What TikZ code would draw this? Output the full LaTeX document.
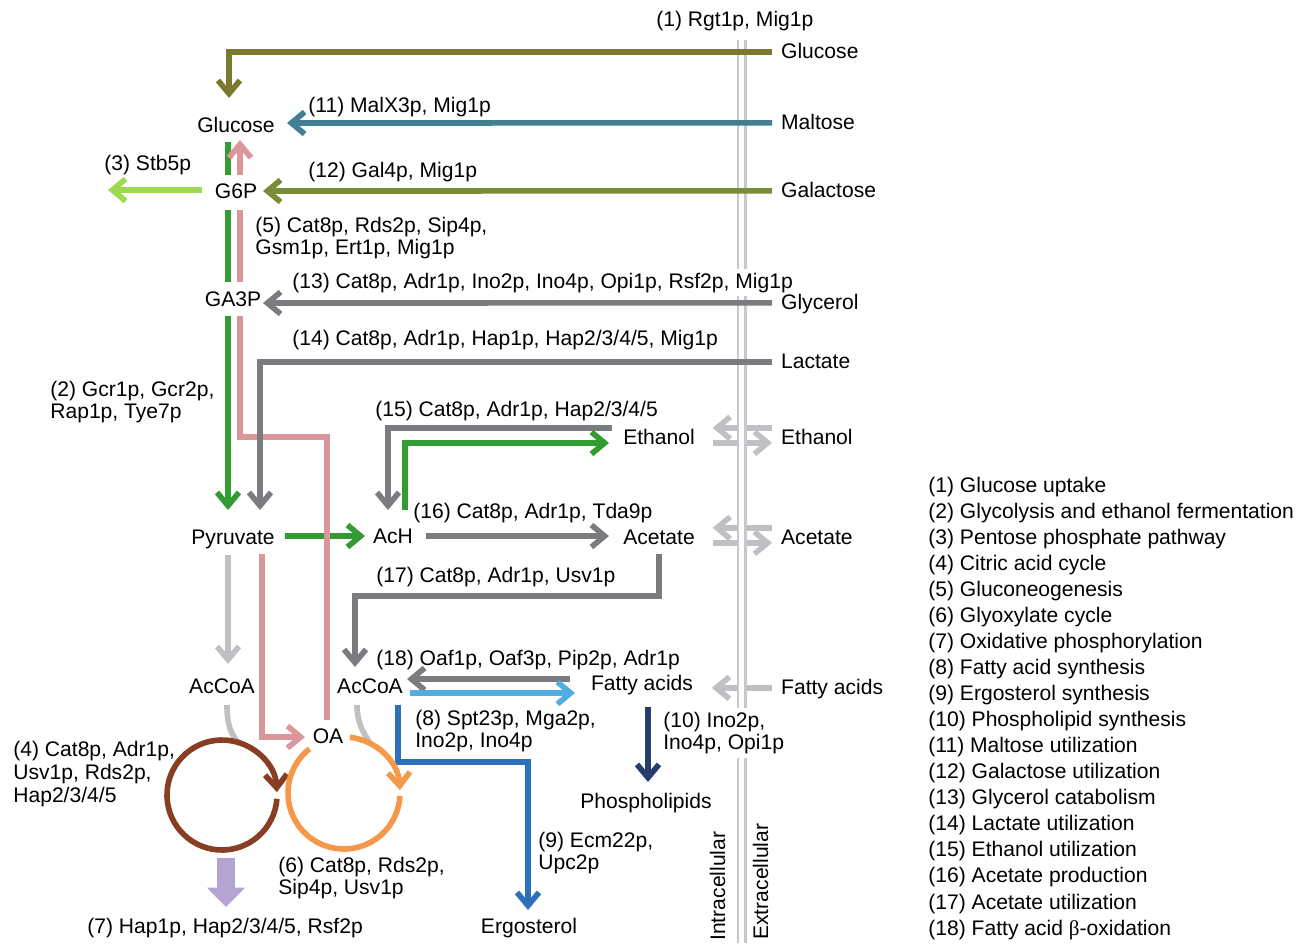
\documentclass[tikz,border=0pt]{standalone}
\usepackage{fontspec}
\setmainfont{Liberation Sans}
\newfontfamily\grk{Liberation Serif}
\usetikzlibrary{arrows.meta,calc}
\definecolor{cglc}{RGB}{122,121,46}
\definecolor{cmal}{RGB}{66,127,146}
\definecolor{cgal}{RGB}{122,140,58}
\definecolor{cppp}{RGB}{158,218,78}
\definecolor{cgreen}{RGB}{50,155,50}
\definecolor{cpink}{RGB}{219,150,155}
\definecolor{cgray}{RGB}{124,124,128}
\definecolor{clgray}{RGB}{192,192,196}
\definecolor{cbrown}{RGB}{135,62,35}
\definecolor{corange}{RGB}{246,152,74}
\definecolor{clblue}{RGB}{82,174,224}
\definecolor{cblue}{RGB}{46,112,186}
\definecolor{cnavy}{RGB}{40,60,112}
\definecolor{cpurple}{RGB}{180,164,210}
\definecolor{cmem}{RGB}{200,200,204}
\begin{document}
\begin{tikzpicture}[x=0.02cm,y=-0.02cm,font=\fontsize{12}{13}\selectfont,
  met/.style={anchor=base,inner sep=2pt,text height=9pt,text depth=2pt},
  ext/.style={met,anchor=base west,inner xsep=5pt},
  lbl/.style={anchor=base west,inner sep=0pt,align=left},
  lblm/.style={anchor=west,inner sep=0pt,align=left},
  mask/.style={fill=white,inner ysep=2pt},
  flow/.style={line width=3.2pt,-{Straight Barb[length=7.5pt,width=12.5pt]}},
  link/.style={line width=3.2pt},
  oxphos/.style={line width=10pt,cpurple,-{Triangle[length=11pt,width=21pt]}},
  membrane/.style={line width=1.7pt,cmem,double=white,double distance=2.3pt}]
\useasboundingbox (0,0) rectangle (1311,943);

\node[met] (glc) at (236,132) {Glucose};
\node[met] (g6p) at (236,198) {G6P};
\node[met] (ga3p) at (233,306) {GA3P};
\node[met] (pyr) at (233,544) {Pyruvate};
\node[met] (ach) at (393,543) {AcH};
\node[met] (etoh) at (659,444) {Ethanol};
\node[met] (ac) at (659,544) {Acetate};
\node[met] (accoa1) at (222,693) {AcCoA};
\node[met] (accoa2) at (370,693) {AcCoA};
\node[met] (oa) at (328,743) {OA};
\node[met] (fa) at (642,690) {Fatty acids};
\node[met] (pl) at (646,808) {Phospholipids};
\node[met] (erg) at (529,933) {Ergosterol};
\coordinate (tca) at (222,795);
\coordinate (gly) at (344,793);

\node[ext] (xetoh) at (772,444) {Ethanol};
\node[ext] (xac) at (772,544) {Acetate};
\node[ext] (xfa) at (772,694) {Fatty acids};

\draw[flow,clgray] ($(xetoh.west)+(0,-10)$) -- ($(etoh.east)+(14,-10)$);
\draw[flow,clgray] ($(etoh.east)+(14,5)$) -- ($(xetoh.west)+(0,5)$);
\draw[flow,clgray] ($(xac.west)+(0,-10)$) -- ($(ac.east)+(14,-10)$);
\draw[flow,clgray] ($(ac.east)+(14,5)$) -- ($(xac.west)+(0,5)$);
\draw[flow,clgray] (xfa.west) -- ($(fa.east)+(15,4)$);

\draw[membrane] (741.5,40) -- (741.5,943);
\node[rotate=90,anchor=base west,inner sep=0pt] (intra) at (725,941) {Intracellular};
\node[rotate=90,anchor=base west,inner sep=0pt] (extra) at (768,940) {Extracellular};

\node[lbl] (r1) at (656,27) {(1) Rgt1p, Mig1p};
\node[lblm] (r2) at (50,402) {(2) Gcr1p, Gcr2p,\\Rap1p, Tye7p};
\node[lbl] (r3) at (104,170) {(3) Stb5p};
\node[lblm] (r4) at (13,774) {(4) Cat8p, Adr1p,\\Usv1p, Rds2p,\\Hap2/3/4/5};
\node[lblm] (r5) at (255,238) {(5) Cat8p, Rds2p, Sip4p,\\Gsm1p, Ert1p, Mig1p};
\node[lblm] (r6) at (278,878) {(6) Cat8p, Rds2p,\\Sip4p, Usv1p};
\node[lbl] (r7) at (87,933) {(7) Hap1p, Hap2/3/4/5, Rsf2p};
\node[lblm] (r8) at (415,731) {(8) Spt23p, Mga2p,\\Ino2p, Ino4p};
\node[lblm] (r9) at (538,853) {(9) Ecm22p,\\Upc2p};
\node[lblm,mask] (r10) at (663,733) {(10) Ino2p,\\Ino4p, Opi1p};
\node[lbl] (r11) at (308,112) {(11) MalX3p, Mig1p};
\node[lbl] (r12) at (308,177) {(12) Gal4p, Mig1p};
\node[lbl,mask] (r13) at (292,288) {(13) Cat8p, Adr1p, Ino2p, Ino4p, Opi1p, Rsf2p, Mig1p};
\node[lbl] (r14) at (292,345) {(14) Cat8p, Adr1p, Hap1p, Hap2/3/4/5, Mig1p};
\node[lbl] (r15) at (375,416) {(15) Cat8p, Adr1p, Hap2/3/4/5};
\node[lbl] (r16) at (413,518) {(16) Cat8p, Adr1p, Tda9p};
\node[lbl] (r17) at (376,582) {(17) Cat8p, Adr1p, Usv1p};
\node[lbl] (r18) at (376,665) {(18) Oaf1p, Oaf3p, Pip2p, Adr1p};

\node[ext] (xglc) at (772,58) {Glucose};
\node[ext] (xmal) at (772,129) {Maltose};
\node[ext] (xgal) at (772,197) {Galactose};
\node[ext] (xgly) at (772,309) {Glycerol};
\node[ext] (xlac) at (772,368) {Lactate};

\foreach \t [count=\i] in {{(1) Glucose uptake},{(2) Glycolysis and ethanol fermentation},
  {(3) Pentose phosphate pathway},{(4) Citric acid cycle},{(5) Gluconeogenesis},
  {(6) Glyoxylate cycle},{(7) Oxidative phosphorylation},{(8) Fatty acid synthesis},
  {(9) Ergosterol synthesis},{(10) Phospholipid synthesis},{(11) Maltose utilization},
  {(12) Galactose utilization},{(13) Glycerol catabolism},{(14) Lactate utilization},
  {(15) Ethanol utilization},{(16) Acetate production},{(17) Acetate utilization},
  {(18) Fatty acid {\grk β}-oxidation}}
  \node[lbl] (leg\i) at (928,{466+26.06*\i}) {\t};

\draw[flow,cglc] (xglc.west) -| ($(glc.base)+(-7,-34)$);
\draw[flow,cmal] (xmal.west) -- ($(glc.base)+(51,-9)$);
\draw[flow,cgal] (xgal.west) -- ($(g6p.base)+(27,-7)$);
\draw[flow,cppp] ($(g6p.base)+(-34,-8)$) -- ($(g6p.base)+(-128,-8)$);

\draw[link,cgreen] ($(glc.base)+(-8,10)$) -- ($(g6p.base)+(-8,-23)$);
\draw[link,cgreen] ($(g6p.base)+(-8,12)$) -- ($(ga3p.base)+(-5,-24)$);
\draw[flow,cgreen] ($(ga3p.base)+(-5,10)$) -- ($(pyr.base)+(-5,-34)$);
\draw[flow,cgreen] ($(pyr.base)+(52,-8)$) -- ($(ach.base)+(-28,-7)$);
\draw[flow,cgreen] ($(ach.base)+(12,-33)$) |- ($(etoh.base)+(-50,-1)$);

\draw[link,cpink] ($(oa.base)+(-1,-23)$) |- ($(ga3p.base)+(7,131)$) -- ($(ga3p.base)+(7,10)$);
\draw[link,cpink] ($(ga3p.base)+(7,-24)$) -- ($(g6p.base)+(4,12)$);
\draw[flow,cpink] ($(g6p.base)+(4,-23)$) -- ($(glc.base)+(4,8)$);
\draw[flow,cpink] ($(pyr.base)+(29,10)$) |- ($(oa.base)+(-23,-6)$);

\draw[flow,cgray] (xgly.west) -- ($(ga3p.base)+(30,-3)$);
\draw[flow,cgray] (xlac.west) -| ($(pyr.base)+(27,-34)$);
\draw[flow,cgray] ($(etoh.base)+(-47,-16)$) -| ($(ach.base)+(-5,-33)$);
\draw[flow,cgray] ($(ach.base)+(33,-7)$) -- ($(ac.base)+(-50,-8)$);
\draw[flow,cgray] ($(ac.base)+(0,10)$) |- ($(accoa2.base)+(-15,-97)$) -- ($(accoa2.base)+(-15,-26)$);
\draw[flow,cgray] ($(fa.base)+(-72,-11)$) -- ($(accoa2.base)+(37,-14)$);
\draw[flow,clblue] ($(accoa2.base)+(40,0)$) -- ($(fa.base)+(-67,3)$);
\draw[flow,cblue] ($(accoa2.base)+(28,12)$) |- ($(erg.base)+(-1,-171)$) -- ($(erg.base)+(-1,-23)$);
\draw[flow,cnavy] ($(fa.base)+(6,17)$) -- ($(pl.base)+(2,-26)$);
\draw[flow,clgray] ($(pyr.base)+(-5,11)$) -- ($(accoa1.base)+(6,-29)$);

\draw[link,clgray] ($(accoa1.base)+(5,12)$) .. controls ($(accoa1.base)+(5,32)$) and ($(accoa1.base)+(9,42)$) .. ($(tca)+(-72:55)$);
\draw[link,clgray] ($(accoa2.base)+(-13,12)$) .. controls ($(accoa2.base)+(-13,28)$) and ($(accoa2.base)+(-8,38)$) .. ($(gly)+(-62:56)$);
\draw[flow,cbrown] ($(tca)+(4:55)$) arc[start angle=4,end angle=357,radius=55];
\draw[flow,corange] ($(gly)+(-84:56)$) arc[start angle=-84,end angle=-3,radius=56];
\draw[link,corange] ($(gly)+(3:56)$) arc[start angle=3,end angle=232,radius=56];
\draw[oxphos] ($(tca)+(4,63)$) -- ($(tca)+(4,112)$);
\end{tikzpicture}
\end{document}
